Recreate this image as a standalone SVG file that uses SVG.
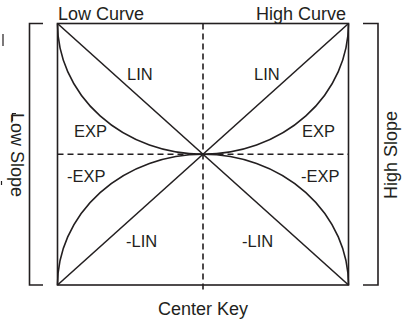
<svg xmlns="http://www.w3.org/2000/svg" width="406" height="321" viewBox="0 0 406 321">
<style>
.ln{fill:none;stroke:#231f20;stroke-width:1.6}
.dash{fill:none;stroke:#231f20;stroke-width:1.6;stroke-dasharray:6 4}
.frag{fill:none;stroke:#231f20;stroke-width:1.2}
.lab{font-family:"Liberation Sans",Arial,sans-serif;font-size:18px;fill:#231f20}
.in{font-family:"Liberation Sans",Arial,sans-serif;font-size:16.5px;fill:#231f20}
</style>
<rect width="406" height="321" fill="#fff"/>
<g id="edge-fragments">
<path class="frag" d="M3,34 V46"/>
<path class="frag" d="M12.5,121 V113.5 H16"/>
<path class="frag" d="M1.5,181 V185"/>
</g>
<g id="frame">
<rect class="ln" x="57.5" y="23.5" width="291" height="261.5"/>
</g>
<g id="connectors">
<line class="dash" x1="57.5" y1="154.25" x2="348.5" y2="154.25"/>
<line class="dash" x1="203" y1="23.5" x2="203" y2="293"/>
<line class="ln" x1="57.5" y1="23.5" x2="348.5" y2="285"/>
<line class="ln" x1="57.5" y1="285" x2="348.5" y2="23.5"/>
<path class="ln" d="M57.5,23.5 A145.5,130.75 0 0 0 203,154.25 A145.5,130.75 0 0 0 348.5,23.5"/>
<path class="ln" d="M57.5,285 A145.5,130.75 0 0 1 203,154.25 A145.5,130.75 0 0 1 348.5,285"/>
</g>
<g id="low-slope-bracket">
<path class="ln" d="M43,23.5 H29.5 V285 H43"/>
<text class="lab" text-anchor="middle" transform="translate(10.5,155) rotate(90)">Low Slope</text>
</g>
<g id="high-slope-bracket">
<path class="ln" d="M363,23.5 H378 V285 H363"/>
<text class="lab" text-anchor="middle" transform="translate(397,155) rotate(-90)">High Slope</text>
</g>
<g id="labels-top">
<text class="lab" x="58" y="19.5">Low Curve</text>
<text class="lab" x="346" y="19.5" text-anchor="end">High Curve</text>
</g>
<g id="center-key">
<text class="lab" x="203" y="315" text-anchor="middle">Center Key</text>
</g>
<g id="curve-labels">
<text class="in" x="127" y="80">LIN</text>
<text class="in" x="254" y="80">LIN</text>
<text class="in" x="74" y="137">EXP</text>
<text class="in" x="302" y="137">EXP</text>
<text class="in" x="67" y="182">-EXP</text>
<text class="in" x="301" y="182">-EXP</text>
<text class="in" x="126" y="247">-LIN</text>
<text class="in" x="242" y="247">-LIN</text>
</g>
</svg>
